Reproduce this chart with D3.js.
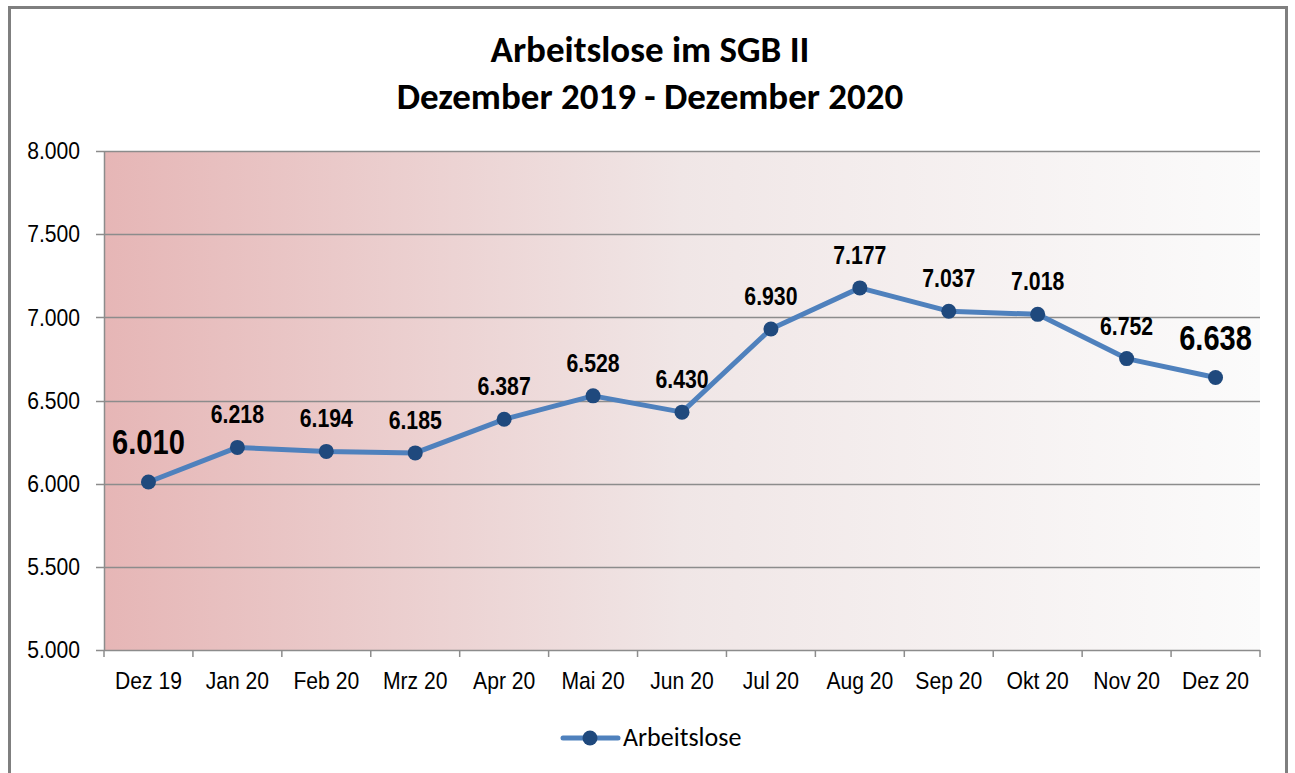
<!DOCTYPE html>
<html>
<head>
<meta charset="utf-8">
<script src="https://cdn.jsdelivr.net/npm/d3@7"></script>
<style>
  body { margin: 0; background: #fff; }
  svg { display: block; }
</style>
</head>
<body>
<svg id="chart" width="1295" height="773"></svg>
<script>
// data
const months = ['Dez 19', 'Jan 20', 'Feb 20', 'Mrz 20', 'Apr 20', 'Mai 20', 'Jun 20',
                'Jul 20', 'Aug 20', 'Sep 20', 'Okt 20', 'Nov 20', 'Dez 20'];
const arbeitslose = [6010, 6218, 6194, 6185, 6387, 6528, 6430, 6930, 7177, 7037, 7018, 6752, 6638];
const yTicks = [5000, 5500, 6000, 6500, 7000, 7500, 8000];

// no narrow font available, so squeeze Liberation Sans a bit
const sans = '"Liberation Sans", Arial, sans-serif';
const calibri = 'Carlito, Calibri, "Open Sans", sans-serif';
const squeeze = 0.88;

const svg = d3.select('#chart');
const plot = { left: 104, right: 1260, top: 151, bottom: 650 };

// outer frame
svg.append('rect')
  .attr('x', 9.5).attr('y', 7.5)
  .attr('width', 1277).attr('height', 800)
  .attr('fill', 'white')
  .attr('stroke', '#7f7f7f')
  .attr('stroke-width', 3);

// background gradient of the plot area
const grad = svg.append('defs').append('linearGradient')
  .attr('id', 'bg').attr('x1', '0%').attr('x2', '100%').attr('y1', '0%').attr('y2', '0%');
grad.append('stop').attr('offset', '0%').attr('stop-color', '#e6b6b6');
grad.append('stop').attr('offset', '50%').attr('stop-color', '#f0e6e6');
grad.append('stop').attr('offset', '100%').attr('stop-color', '#fbfbfb');

const x = d3.scaleBand().domain(months).range([plot.left, plot.right]);
const y = d3.scaleLinear().domain([5000, 8000]).range([plot.bottom, plot.top]);
const fmt = d3.formatLocale({ decimal: ',', thousands: '.', grouping: [3], currency: ['', '€'] }).format(',.0f');

svg.append('rect')
  .attr('x', plot.left).attr('y', plot.top)
  .attr('width', plot.right - plot.left).attr('height', plot.bottom - plot.top)
  .attr('fill', 'url(#bg)');

// gridlines
svg.append('g')
  .selectAll('line')
  .data(yTicks)
  .join('line')
  .attr('x1', plot.left - 8).attr('x2', plot.right)
  .attr('y1', d => Math.round(y(d)) + 0.5).attr('y2', d => Math.round(y(d)) + 0.5)
  .attr('stroke', '#8c8c8c').attr('stroke-width', 1.5);

// y axis
const yAxis = svg.append('g')
  .attr('transform', `translate(${plot.left},0)`)
  .call(d3.axisLeft(y).tickValues(yTicks).tickSize(0).tickPadding(24).tickFormat(d => fmt(d)));
yAxis.select('.domain').attr('stroke', '#8c8c8c').attr('stroke-width', 1.5);
yAxis.selectAll('text')
  .attr('x', -24 / squeeze)
  .attr('transform', `scale(${squeeze},1)`)
  .attr('font-family', sans).attr('font-size', 24).attr('fill', '#000');

// x axis
const xAxis = svg.append('g')
  .attr('transform', `translate(0,${plot.bottom})`)
  .call(d3.axisBottom(x).tickSize(0).tickPadding(22));
xAxis.select('.domain').remove();
xAxis.selectAll('text')
  .attr('transform', `scale(${squeeze},1)`)
  .attr('font-family', sans).attr('font-size', 24).attr('fill', '#000');
svg.append('g')
  .selectAll('line')
  .data(months.concat(['end']))
  .join('line')
  .attr('x1', (d, i) => plot.left + i * x.step()).attr('x2', (d, i) => plot.left + i * x.step())
  .attr('y1', plot.bottom).attr('y2', plot.bottom + 7)
  .attr('stroke', '#8c8c8c').attr('stroke-width', 1.5);

// line
const cx = d => x(d) + x.bandwidth() / 2;
const line = d3.line()
  .x((d, i) => cx(months[i]))
  .y(d => y(d));

svg.append('path')
  .datum(arbeitslose)
  .attr('d', line)
  .attr('fill', 'none')
  .attr('stroke', '#4f81bd')
  .attr('stroke-width', 5)
  .attr('stroke-linejoin', 'round');

svg.append('g')
  .selectAll('circle')
  .data(arbeitslose)
  .join('circle')
  .attr('cx', (d, i) => cx(months[i]))
  .attr('cy', d => y(d))
  .attr('r', 7.5)
  .attr('fill', '#1f497d');

// data labels, first and last bigger
const last = arbeitslose.length - 1;
const big = i => i === 0 || i === last;
svg.append('g')
  .selectAll('g')
  .data(arbeitslose)
  .join('g')
  .attr('transform', (d, i) => `translate(${cx(months[i])},${y(d) - (big(i) ? 28 : 24)})`)
  .append('text')
  .attr('transform', (d, i) => `scale(${big(i) ? 0.83 : 0.85},1)`)
  .attr('text-anchor', 'middle')
  .attr('font-family', sans)
  .attr('font-weight', 'bold')
  .attr('font-size', (d, i) => big(i) ? 35 : 25)
  .attr('fill', '#000')
  .text(d => fmt(d));

// title
const title = svg.append('text')
  .attr('text-anchor', 'middle')
  .attr('font-family', calibri)
  .attr('font-weight', 'bold')
  .attr('font-size', 37)
  .attr('fill', '#000');
title.append('tspan').attr('x', 650).attr('y', 62).text('Arbeitslose im SGB II');
title.append('tspan').attr('x', 650).attr('y', 109).text('Dezember 2019 - Dezember 2020');

// legend
const lg = svg.append('g').attr('transform', 'translate(563,738)');
lg.append('line').attr('x1', 0).attr('x2', 55).attr('y1', 0).attr('y2', 0)
  .attr('stroke', '#4f81bd').attr('stroke-width', 5).attr('stroke-linecap', 'round');
lg.append('circle').attr('cx', 27).attr('cy', 0).attr('r', 7.5).attr('fill', '#1f497d');
lg.append('text').attr('x', 60).attr('y', 8)
  .attr('font-family', calibri).attr('font-size', 26).attr('fill', '#000')
  .text('Arbeitslose');
</script>
</body>
</html>
